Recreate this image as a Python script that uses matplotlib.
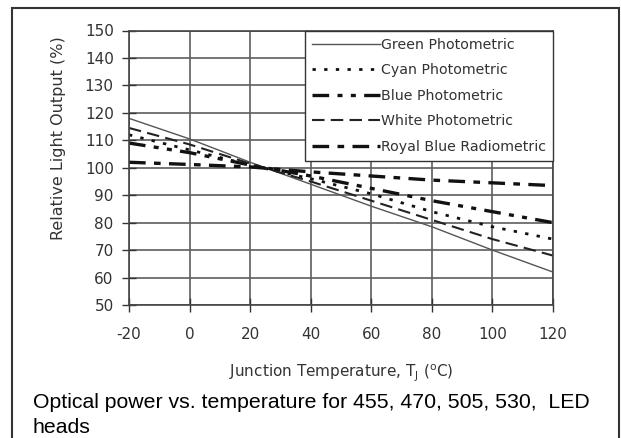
import matplotlib
matplotlib.use('Agg')
import matplotlib.pyplot as plt
from matplotlib.patches import Rectangle

plt.rcParams['font.family'] = ['DejaVu Sans']
plt.rcParams['axes.unicode_minus'] = False

# --- values ---
temps = [-20, 0, 20, 40, 60, 80, 100, 120]
green = [118, 110.5, 102, 94, 86, 78.5, 70, 62]
cyan = [112, 106.5, 101, 96, 90.5, 84, 78.5, 74]
blue = [109, 105.5, 101, 97, 92.5, 88, 84, 80]
white = [114.5, 108.5, 101.5, 95, 88, 81, 74, 68]
royal_blue = [102, 101.2, 100.3, 98.5, 97, 95.5, 94.5, 93.5]

labels = ['Green Photometric', 'Cyan Photometric', 'Blue Photometric',
          'White Photometric', 'Royal Blue Radiometric']
y_ticks = list(range(50, 151, 10))
x_ticks = list(range(-20, 121, 20))
caption = ['Optical power vs. temperature for 455, 470, 505, 530,  LED', 'heads']

W, H = 621, 438
fig = plt.figure(figsize=(W / 100, H / 100), dpi=100)
ax = fig.add_axes([129 / W, 1 - 305 / H, 424 / W, 274.5 / H])

# grid first so the curves sit on top
ax.set_axisbelow(True)
ax.grid(True, color='#5e5e5e', linewidth=1.2)

ax.plot(temps, green, color='#555555', linewidth=1.0, label=labels[0])
ax.plot(temps, cyan, color='#111111', linewidth=2.0,
        linestyle=(0, (1.2, 3)), label=labels[1])
ax.plot(temps, blue, color='#111111', linewidth=2.4,
        linestyle=(0, (5, 2.5, 1.5, 2.5, 1.5, 2.5)), label=labels[2])
ax.plot(temps, white, color='#222222', linewidth=1.5,
        linestyle=(0, (6, 3)), label=labels[3])
ax.plot(temps, royal_blue, color='#111111', linewidth=2.4,
        linestyle=(0, (5, 2.5, 2, 2.5)), label=labels[4])

ax.set_xlim(-20, 120)
ax.set_ylim(50, 150)
ax.set_xticks(x_ticks)
ax.set_yticks(y_ticks)
ax.tick_params(axis='both', direction='inout', length=10, width=1,
               color='#333333', labelcolor='#333333', labelsize=11)
ax.tick_params(axis='x', pad=11)
ax.tick_params(axis='y', pad=6)
for s in ax.spines.values():
    s.set_color('#444444')
    s.set_linewidth(1.2)

fig.text(341 / W, 1 - 377 / H,
         'Junction Temperature, T$_\\mathregular{J}$ ($\\mathregular{^o}$C)',
         ha='center', va='baseline', fontsize=11, color='#333333')
fig.text(58 / W, 1 - 138 / H, 'Relative Light Output (%)', rotation=90,
         ha='center', va='center', fontsize=11.5, color='#333333')

leg = ax.legend(loc='upper right', bbox_to_anchor=(1.0, 1.0), borderaxespad=0,
                fontsize=10.2, handlelength=4.8, handletextpad=0.05,
                labelspacing=0.82, borderpad=0.5, fancybox=False,
                framealpha=1, edgecolor='#333333')
leg.get_frame().set_linewidth(1.0)
for t in leg.get_texts():
    t.set_color('#333333')

for i, line in enumerate(caption):
    fig.text(33 / W, 1 - (408 + 25 * i) / H, line, family='Liberation Sans',
             ha='left', va='baseline', fontsize=15.3, color='black')

# outer frame around the whole figure
fig.patches.append(Rectangle((12 / W, -0.05), (619 - 12) / W, 1 - 8 / H + 0.05,
                             transform=fig.transFigure, fill=False,
                             edgecolor='#333333', linewidth=1.5))

fig.savefig('out.png', dpi=100)
